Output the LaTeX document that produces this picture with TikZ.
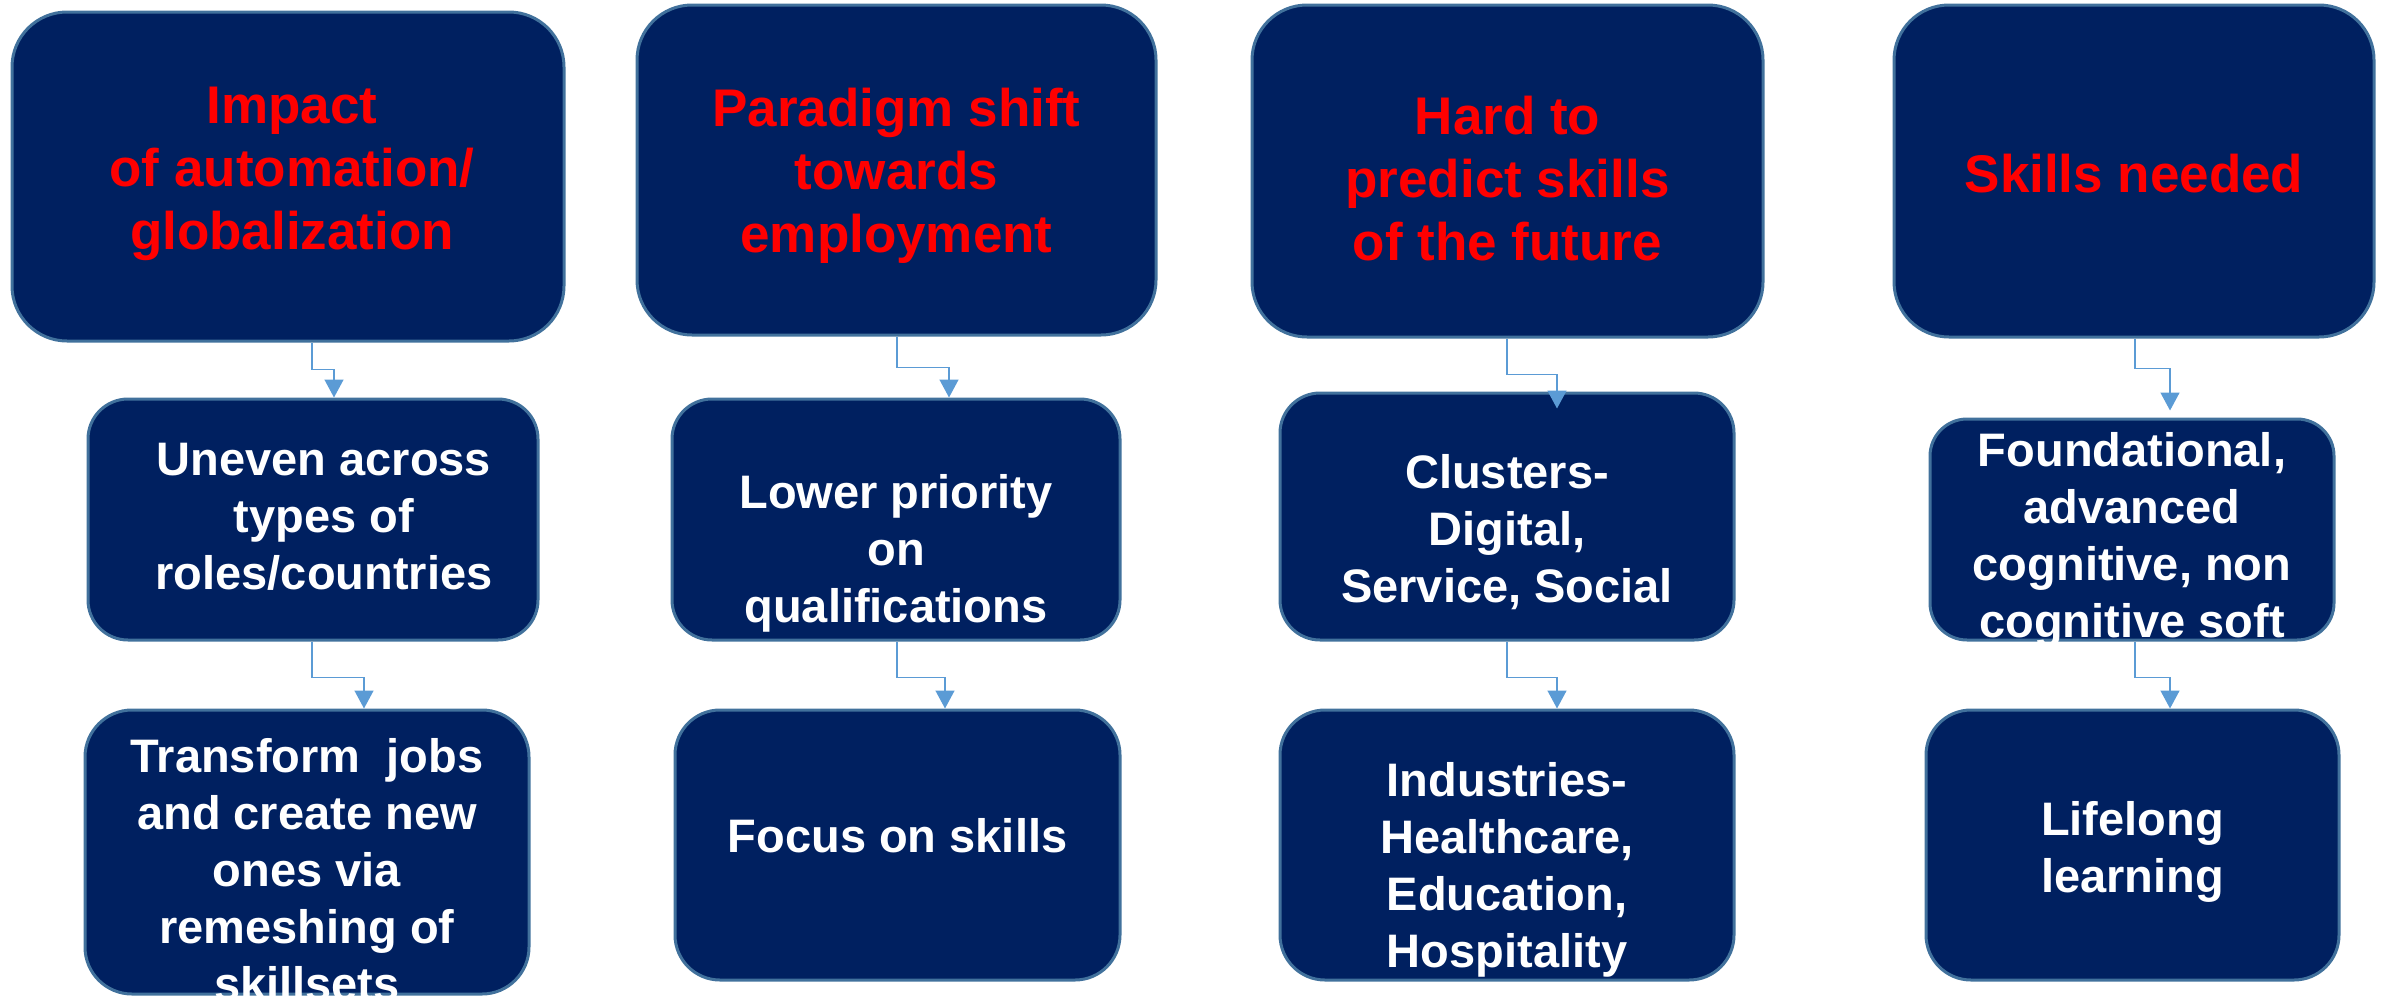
\documentclass[tikz,border=0pt]{standalone}
\usepackage{fontspec}
\setmainfont{Liberation Sans}
\usetikzlibrary{arrows.meta,calc}
\definecolor{navyfill}{HTML}{002060}
\definecolor{boxedge}{HTML}{41719C}
\definecolor{connblue}{HTML}{5B9BD5}
\definecolor{titlered}{HTML}{FF0000}
\tikzset{
  box/.style={draw=boxedge, line width=3pt, fill=navyfill, inner sep=0pt},
  toptext/.style={text=titlered, align=center, inner sep=0pt, font={\fontsize{53}{63}\selectfont\bfseries}},
  bodytext/.style={text=white, align=center, inner sep=0pt, font={\fontsize{47}{57}\selectfont\bfseries}},
  conn/.style={draw=connblue, line width=1.5pt, -{Triangle[width=19pt,length=18pt]}}
}
\begin{document}
\begin{tikzpicture}[x=1pt,y=-1pt]
\useasboundingbox (0,0) rectangle (2389,996);
% top row
\node[box, rounded corners=55pt, minimum width=552pt, minimum height=329pt] (t1) at (288,176.5) {};
\node[box, rounded corners=55pt, minimum width=519pt, minimum height=330pt] (t2) at (896.5,170) {};
\node[box, rounded corners=55pt, minimum width=511pt, minimum height=332pt] (t3) at (1507.5,171) {};
\node[box, rounded corners=55pt, minimum width=480pt, minimum height=332pt] (t4) at (2134,171) {};
% middle row
\node[box, rounded corners=40pt, minimum width=450pt, minimum height=241pt] (m1) at (313,519.5) {};
\node[box, rounded corners=40pt, minimum width=448pt, minimum height=241pt] (m2) at (896,519.5) {};
\node[box, rounded corners=40pt, minimum width=454pt, minimum height=247pt] (m3) at (1507,516.5) {};
\node[box, rounded corners=37pt, minimum width=404pt, minimum height=221pt] (m4) at (2132,529.5) {};
% bottom row
\node[box, rounded corners=47pt, minimum width=444pt, minimum height=284pt] (l1) at (307,852) {};
\node[box, rounded corners=45pt, minimum width=445pt, minimum height=270pt] (l2) at (897.5,845) {};
\node[box, rounded corners=45pt, minimum width=454pt, minimum height=270pt] (l3) at (1507,845) {};
\node[box, rounded corners=45pt, minimum width=413pt, minimum height=270pt] (l4) at (2132.5,845) {};
% texts
\node[toptext] (t1txt) at (292,173.5) {Impact\\of automation/\\globalization};
\node[toptext] (t2txt) at (896.5,175.5) {Paradigm shift\\towards\\employment};
\node[toptext] (t3txt) at (1507.5,179) {Hard to\\predict skills\\of the future};
\node[toptext] (t4txt) at (2134,174) {Skills needed};
\node[bodytext] (m1txt) at (324,516.5) {Uneven across\\types of\\roles/countries};
\node[bodytext] (m2txt) at (896,553) {Lower priority\\on\\qualifications};
\node[bodytext] (m3txt) at (1507,532) {Clusters-\\Digital,\\Service, Social};
\begin{scope}
  \clip (m4.north west) rectangle (m4.south east);
  \node[bodytext] (m4txt) at (2132,540) {Foundational,\\advanced\\cognitive, non\\cognitive soft};
\end{scope}
\node[bodytext] (l1txt) at (307,870) {Transform\ \ jobs\\and create new\\ones via\\remeshing of\\skillsets};
\node[bodytext] (l2txt) at (897.5,836) {Focus on skills};
\node[bodytext] (l3txt) at (1507,870) {Industries-\\Healthcare,\\Education,\\Hospitality};
\node[bodytext] (l4txt) at (2132.5,852) {Lifelong\\learning};
% connectors
\draw[conn] ($(t1.south)+(24,0)$) -- ++(0,27) -| ($(m1.north)+(21,0)$);
\draw[conn] ($(m1.south)+(-1,0)$) -- ++(0,36) -| ($(l1.north)+(57,0)$);
\draw[conn] ($(t2.south)+(0.5,0)$) -- ++(0,31) -| ($(m2.north)+(53,0)$);
\draw[conn] ($(m2.south)+(1,0)$) -- ++(0,36) -| ($(l2.north)+(47.5,0)$);
\draw[conn] ($(t3.south)+(-0.5,0)$) -- ++(0,36) -| ($(m3.north)+(50,17)$);
\draw[conn] ($(m3.south)+(0,0)$) -- ++(0,36) -| ($(l3.north)+(50,0)$);
\draw[conn] ($(t4.south)+(1,0)$) -- ++(0,30) -| ($(m4.north)+(38,-7)$);
\draw[conn] ($(m4.south)+(3,0)$) -- ++(0,36) -| ($(l4.north)+(37.5,0)$);
\end{tikzpicture}
\end{document}
